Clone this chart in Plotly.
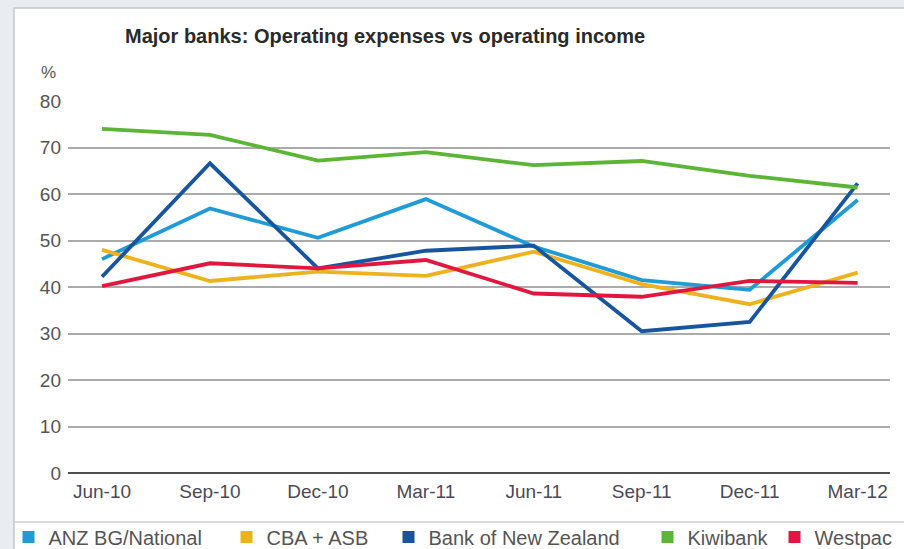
import plotly.graph_objects as go

categories = ["Jun-10", "Sep-10", "Dec-10", "Mar-11", "Jun-11", "Sep-11", "Dec-11", "Mar-12"]
anz = [46.0, 56.9, 50.6, 58.9, 48.7, 41.5, 39.4, 58.7]
cba = [48.0, 41.3, 43.3, 42.4, 47.6, 40.6, 36.3, 43.1]
bnz = [42.2, 66.6, 44.0, 47.8, 48.9, 30.5, 32.5, 62.3]
kiwi = [74.0, 72.7, 67.2, 69.0, 66.2, 67.1, 63.9, 61.4]
westpac = [40.2, 45.1, 44.0, 45.8, 38.6, 37.9, 41.3, 40.9]
y_ticks = [0, 10, 20, 30, 40, 50, 60, 70, 80]

series = [
    ("ANZ BG/National", anz, "#1f9bd7"),
    ("CBA + ASB", cba, "#eeb21e"),
    ("Bank of New Zealand", bnz, "#17569f"),
    ("Kiwibank", kiwi, "#5db535"),
    ("Westpac", westpac, "#e2173f"),
]

# figure geometry (pixels)
W, H = 904, 549
L, R, T, B = 68, 14, 101, 76
pw, ph = W - L - R, H - T - B

def px_x(p):
    return (p - L) / pw

def px_y(p):
    return (H - B - p) / ph

legend_x = [8.5, 226.5, 388.5, 647.5, 774.5]

fig = go.Figure()
for i, (name, vals, col) in enumerate(series):
    fig.add_trace(go.Scatter(x=categories, y=vals, name=name, mode="lines",
                             line=dict(color=col, width=3.8), showlegend=False,
                             legendgroup=name))
for i, (name, vals, col) in enumerate(series):
    lg = "legend" if i == 0 else f"legend{i+1}"
    fig.add_trace(go.Scatter(x=[None], y=[None], name=name, mode="markers",
                             marker=dict(symbol="square", size=12, color=col),
                             legendgroup=name, showlegend=True, legend=lg))

legend_common = dict(orientation="h", yanchor="middle", xanchor="left",
                     bgcolor="rgba(0,0,0,0)", itemwidth=30,
                     font=dict(family="Liberation Sans, Arial, sans-serif", size=20, color="#555555"))
leg_layout = {}
for i, lx in enumerate(legend_x):
    key = "legend" if i == 0 else f"legend{i+1}"
    leg_layout[key] = dict(x=px_x(lx), y=px_y(537), **legend_common)

fig.update_layout(
    width=W, height=H,
    margin=dict(l=L, r=R, t=T, b=B, autoexpand=False),
    paper_bgcolor="#e9edf2",
    plot_bgcolor="rgba(0,0,0,0)",
    font=dict(family="Liberation Sans, Arial, sans-serif", size=19, color="#4a4a4a"),
    title=dict(text="<b>Major banks: Operating expenses vs operating income</b>",
               x=125 / W, xanchor="left", xref="container",
               y=1 - 36 / H, yanchor="middle", yref="container",
               font=dict(size=20, color="#2a2a2a")),
    xaxis=dict(type="category", categoryorder="array", categoryarray=categories,
               range=[-0.315, 7.30], showgrid=False, showline=False, zeroline=False,
               ticks="", tickfont=dict(size=19, color="#4a4a58"), ticklabelstandoff=5),
    yaxis=dict(range=[0, 80], tickvals=y_ticks, showgrid=True, gridcolor="#ababab",
               gridwidth=1.6, zeroline=True, zerolinecolor="#505050", zerolinewidth=2.2,
               showline=False, ticks="", ticklabelstandoff=6,
               tickfont=dict(size=19, color="#555555")),
    shapes=[
        dict(type="rect", xref="paper", yref="paper", layer="below",
             x0=px_x(14), x1=px_x(910), y0=px_y(560), y1=px_y(8),
             fillcolor="#ffffff", line=dict(color="#c4c7cc", width=1.5)),
        dict(type="line", xref="paper", yref="paper", layer="below",
             x0=px_x(14), x1=px_x(910), y0=px_y(522), y1=px_y(522),
             line=dict(color="#cfd1d4", width=1.5)),
    ],
    annotations=[
        dict(text="%", xref="paper", yref="paper", x=px_x(39), y=px_y(72),
             xanchor="left", yanchor="middle", showarrow=False,
             font=dict(size=17, color="#555555")),
    ],
    **leg_layout,
)

fig.write_html("out.html", config={"displayModeBar": False},
               post_script="document.body.style.margin='0';document.body.style.overflow='hidden';document.body.style.background='#e9edf2';")
